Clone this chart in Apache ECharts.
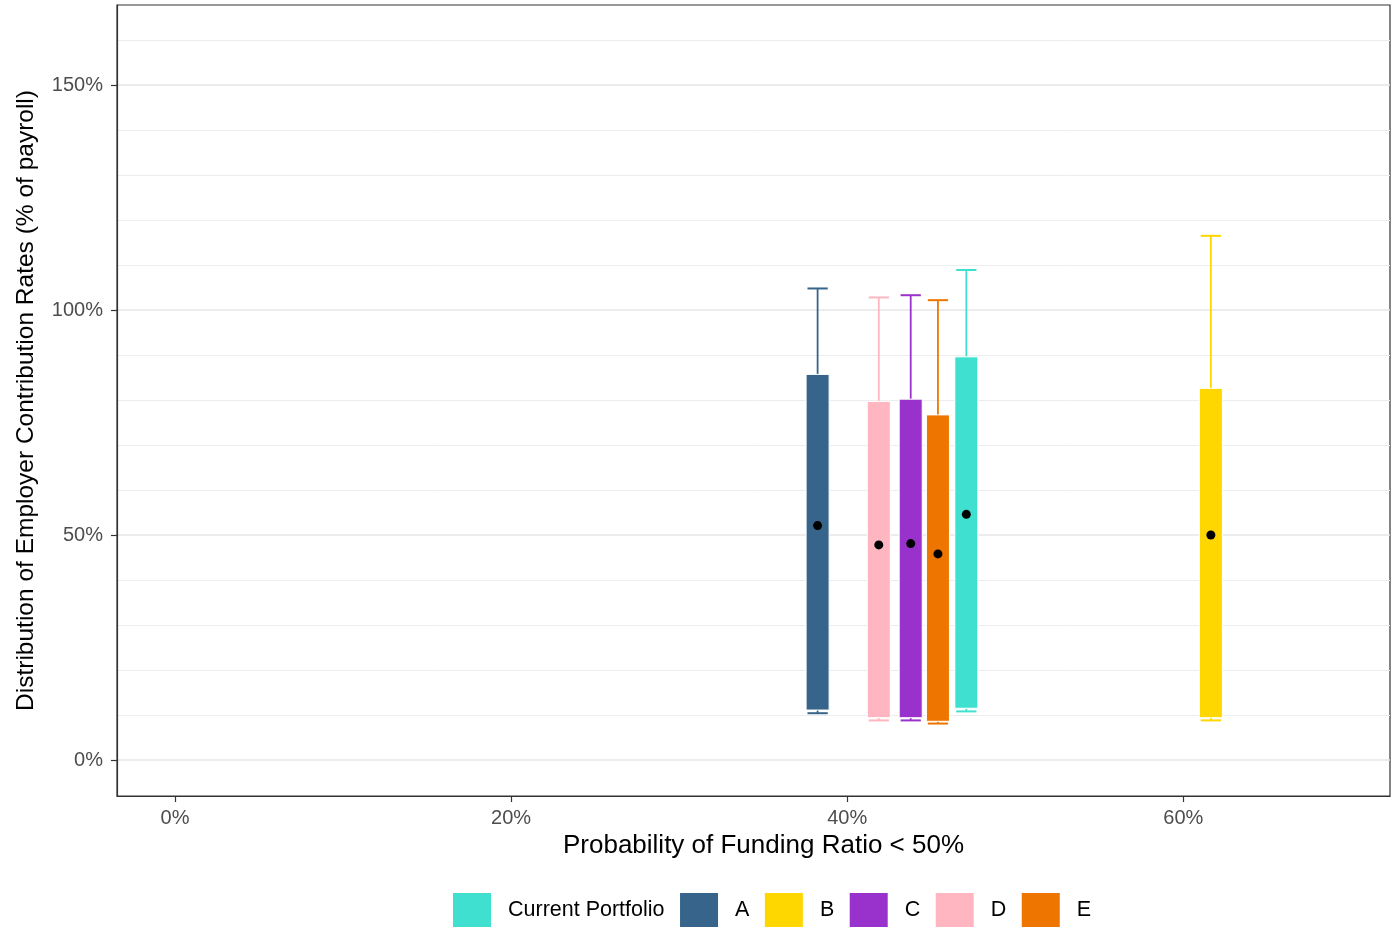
<!DOCTYPE html>
<html>
<head>
<meta charset="utf-8">
<script src="https://cdn.jsdelivr.net/npm/echarts@6/dist/echarts.min.js"></script>
<style>
html,body{margin:0;padding:0;background:#fff;}
#chart{width:1391px;height:927px;}
</style>
</head>
<body>
<div id="chart"></div>
<script>
// ---- data ----
const portfolios = ['Current Portfolio', 'A', 'B', 'C', 'D', 'E'];
const colors = ['#40E0D0', '#36648B', '#FFD700', '#9932CC', '#FFB6C1', '#EE7600'];
const probUnder50 = [47.09, 38.24, 61.64, 43.78, 41.88, 45.40];   // x (%)
const whiskerLow  = [10.8, 10.4, 8.8, 8.8, 8.8, 8.1];
const boxLow      = [11.5, 11.1, 9.4, 9.4, 9.4, 8.6];
const boxHigh     = [89.6, 85.7, 82.6, 80.2, 79.7, 76.7];
const whiskerHigh = [108.9, 104.8, 116.5, 103.3, 102.8, 102.2];
const meanRate    = [54.6, 52.1, 50.0, 48.1, 47.8, 45.8];
const yTicks = [0, 50, 100, 150];
const yMinor = [10, 20, 30, 40, 60, 70, 80, 90, 110, 120, 130, 140, 160];
const xTicks = [0, 20, 40, 60];

const BOX_W = 1.37; // in x-axis units

function renderItem(params, api) {
  const x = api.value(0);
  const pLow = api.coord([x, api.value(1)]);
  const pQ1 = api.coord([x, api.value(2)]);
  const pQ3 = api.coord([x, api.value(3)]);
  const pHigh = api.coord([x, api.value(4)]);
  const pMean = api.coord([x, api.value(5)]);
  const color = api.visual('color');
  const bw = api.size([BOX_W, 0])[0];
  const cw = bw * 0.88;
  const cx = pQ1[0];
  return {
    type: 'group',
    children: [
      { type: 'line', shape: { x1: cx, y1: pQ3[1], x2: cx, y2: pHigh[1] }, style: { stroke: color, lineWidth: 1.8 } },
      { type: 'line', shape: { x1: cx - cw / 2, y1: pHigh[1], x2: cx + cw / 2, y2: pHigh[1] }, style: { stroke: color, lineWidth: 2 } },
      { type: 'line', shape: { x1: cx, y1: pQ1[1], x2: cx, y2: pLow[1] }, style: { stroke: color, lineWidth: 1.8 } },
      { type: 'line', shape: { x1: cx - cw / 2, y1: pLow[1], x2: cx + cw / 2, y2: pLow[1] }, style: { stroke: color, lineWidth: 2 } },
      { type: 'rect', shape: { x: cx - bw / 2, y: pQ3[1], width: bw, height: pQ1[1] - pQ3[1] }, style: { fill: color, stroke: '#ffffff', lineWidth: 1 } },
      { type: 'circle', shape: { cx: pMean[0], cy: pMean[1], r: 4.5 }, style: { fill: '#000000' } }
    ]
  };
}

const series = portfolios.map((name, i) => ({
  name: name,
  type: 'custom',
  renderItem: renderItem,
  itemStyle: { color: colors[i] },
  encode: { x: 0, y: [1, 2, 3, 4, 5] },
  data: [[probUnder50[i], whiskerLow[i], boxLow[i], boxHigh[i], whiskerHigh[i], meanRate[i]]],
  z: 5
}));

const chart = echarts.init(document.getElementById('chart'), null, { renderer: 'canvas' });
const FONT = 'Liberation Sans, Arial, sans-serif';
chart.setOption({
  animation: false,
  backgroundColor: '#ffffff',
  grid: {
    left: 117, top: 5, right: 1, bottom: 131,
    show: true, borderColor: '#333333', borderWidth: 1.2, backgroundColor: 'transparent'
  },
  xAxis: {
    type: 'value',
    min: -3.45, max: 72.3,
    name: 'Probability of Funding Ratio < 50%',
    nameLocation: 'middle',
    nameGap: 34,
    nameTextStyle: { fontFamily: FONT, fontSize: 26, color: '#000000', padding: [0, 0, 0, 20] },
    axisLine: { show: true, onZero: false, lineStyle: { color: '#333333', width: 1.2 } },
    axisTick: { show: true, customValues: xTicks, length: 6, lineStyle: { color: '#333333', width: 1.2 } },
    axisLabel: { show: true, customValues: xTicks, formatter: v => v + '%', fontFamily: FONT, fontSize: 20, color: '#4d4d4d', margin: 12 },
    splitLine: { show: false }
  },
  yAxis: [{
    type: 'value',
    min: -8, max: 167.8,
    name: 'Distribution of Employer Contribution Rates (% of payroll)',
    nameLocation: 'middle',
    nameGap: 78,
    nameTextStyle: { fontFamily: FONT, fontSize: 24.5, color: '#000000' },
    axisLine: { show: true, onZero: false, lineStyle: { color: '#333333', width: 1.2 } },
    axisTick: { show: true, customValues: yTicks, length: 6, lineStyle: { color: '#333333', width: 1.2 } },
    axisLabel: { show: true, customValues: yTicks, formatter: v => v + '%', fontFamily: FONT, fontSize: 20, color: '#4d4d4d', margin: 14 },
    splitLine: { show: true, lineStyle: { color: '#e6e6e6', width: 1.6 } }
  }, {
    type: 'value',
    min: -8, max: 167.8,
    position: 'left',
    axisLine: { show: false },
    axisTick: { show: false, customValues: yMinor },
    axisLabel: { show: false, customValues: yMinor },
    splitLine: { show: true, lineStyle: { color: '#ededed', width: 1 } }
  }],
  legend: {
    data: portfolios,
    top: 893,
    left: 453,
    padding: 0,
    icon: 'rect',
    itemWidth: 38,
    itemHeight: 34,
    itemGap: 15.5,
    textStyle: { fontFamily: FONT, fontSize: 21.5, color: '#000000', padding: [0, 0, 0, 12] }
  },
  series: series
});
</script>
</body>
</html>
